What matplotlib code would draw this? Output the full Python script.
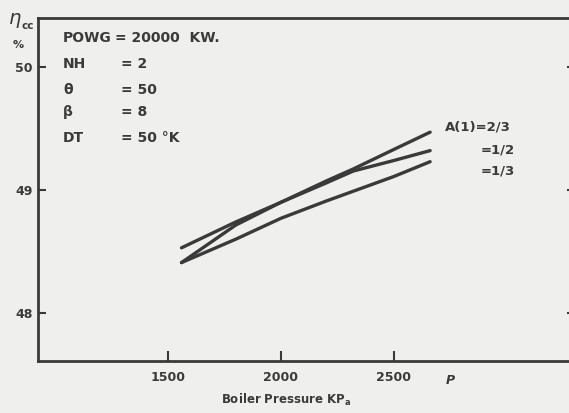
import matplotlib
matplotlib.use("Agg")
import matplotlib.pyplot as plt

# ---- data ----
pressure = [1560, 1800, 2000, 2200, 2320, 2500, 2660]
eff_a23 = [48.41, 48.715, 48.90, 49.073, 49.171, 49.33, 49.47]
eff_a12 = [48.53, 48.74, 48.90, 49.057, 49.154, 49.24, 49.32]
eff_a13 = [48.41, 48.60, 48.77, 48.91, 48.99, 49.11, 49.23]

x_ticks = [1500, 2000, 2500]
y_ticks = [48, 49, 50]
series_labels = ["A(1)=2/3", "=1/2", "=1/3"]
param_names = ["POWG", "NH", "θ", "β", "DT"]
param_values = ["= 20000  KW.", "= 2", "= 50", "= 8", "= 50 °K"]

W, H = 569, 413
ink = "#3a3a3a"
bg = "#efefed"

fig = plt.figure(figsize=(W / 100, H / 100), dpi=100, facecolor=bg)
left, right, top, bottom = 38, 575, 18, 361
ax = fig.add_axes([left / W, 1 - bottom / H, (right - left) / W, (bottom - top) / H])
ax.set_facecolor(bg)

for ys in (eff_a23, eff_a12, eff_a13):
    ax.plot(pressure, ys, color=ink, lw=2.4, solid_capstyle="round",
            solid_joinstyle="round")

ax.set_xlim(925, 3301)
ax.set_ylim(47.61, 50.398)
ax.set_xticks(x_ticks)
ax.set_yticks(y_ticks)
ax.set_xticklabels([str(v) for v in x_ticks])
ax.set_yticklabels([str(v) for v in y_ticks])
ax.tick_params(axis="both", direction="in", colors=ink, width=1.5,
               labelsize=9, right=True)
ax.tick_params(axis="x", length=7, pad=7)
ax.tick_params(axis="y", length=6, pad=4)
for lab in ax.get_xticklabels() + ax.get_yticklabels():
    lab.set_fontweight("bold")
for s in ("left", "bottom", "top"):
    ax.spines[s].set_color(ink)
    ax.spines[s].set_linewidth(2)
ax.spines["right"].set_visible(False)

ax.set_xlabel("Boiler Pressure KP$_\\mathregular{a}$", fontsize=8.5, fontweight="bold",
              color=ink)
ax.xaxis.set_label_coords((286 - left) / (right - left), -(400 - bottom) / (bottom - top))
ax.xaxis.label.set_va("center")


def ft(px, py, s, **kw):
    fig.text(px / W, 1 - py / H, s, color=ink, va="center", **kw)


# y-axis label
ft(8, 20, r"$\eta$", fontsize=14)
ft(21, 26, "cc", fontsize=7.5, fontweight="bold")
ft(13, 45, "%", fontsize=8, fontweight="bold")

# x-axis extra label
ft(446, 380, "P", fontsize=9, fontweight="bold", style="italic")

# parameter block
rows_y = [38, 64, 90, 112, 138]
for name, val, py in zip(param_names, param_values, rows_y):
    ft(63, py, name, fontsize=10, fontweight="bold")
    ft(115 if name == "POWG" else 121, py, val, fontsize=10, fontweight="bold")

# series labels
ft(445, 127, series_labels[0], fontsize=9.5, fontweight="bold")
ft(481, 150, series_labels[1], fontsize=9.5, fontweight="bold")
ft(481, 171, series_labels[2], fontsize=9.5, fontweight="bold")

fig.savefig("out.png", dpi=100, facecolor=bg)
